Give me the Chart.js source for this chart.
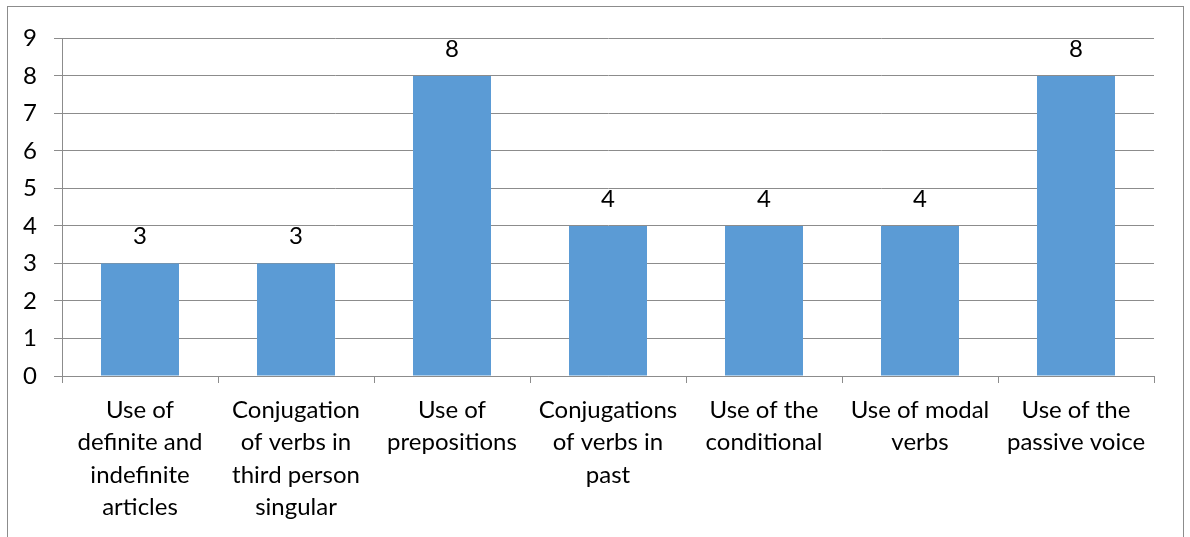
<!DOCTYPE html>
<html>
<head>
<meta charset="utf-8">
<script src="https://cdn.jsdelivr.net/npm/chart.js@4.4.0/dist/chart.umd.min.js"></script>
<style>
  html, body { margin: 0; padding: 0; background: #fff; overflow: hidden; }
  #frame {
    position: absolute; left: 7px; top: 6px;
    width: 1175px; height: 540px;
    border: 1px solid #8c8c8c; box-sizing: content-box;
  }
  #wrap { position: absolute; left: 0; top: 0; width: 1175px; height: 530px; }
</style>
</head>
<body>
<div id="frame"><div id="wrap"><canvas id="barChart"></canvas></div></div>
<script>
// Dữ liệu biểu đồ
const categories = [
  ["Use of", "definite and", "indefinite", "articles"],
  ["Conjugation", "of verbs in", "third person", "singular"],
  ["Use of", "prepositions"],
  ["Conjugations", "of verbs in", "past"],
  ["Use of the", "conditional"],
  ["Use of modal", "verbs"],
  ["Use of the", "passive voice"],
];
const values = [3, 3, 8, 4, 4, 4, 8];
const yTicks = [0, 1, 2, 3, 4, 5, 6, 7, 8, 9];

const fontFamily = "Lato, 'Open Sans', sans-serif";
const gridColor = "#8c8c8c";

// Nhãn giá trị trên cột
const valueLabels = {
  id: "valueLabels",
  afterDatasetsDraw(chart) {
    const ctx = chart.ctx;
    const meta = chart.getDatasetMeta(0);
    ctx.save();
    ctx.font = "24px " + fontFamily;
    ctx.fillStyle = "#000";
    ctx.textAlign = "center";
    ctx.textBaseline = "middle";
    meta.data.forEach((bar, i) => {
      ctx.fillText(String(values[i]), bar.x, bar.y - 27);
    });
    ctx.restore();
  },
};

new Chart(document.getElementById("barChart"), {
  type: "bar",
  data: {
    labels: categories,
    datasets: [
      {
        data: values,
        backgroundColor: "#5b9bd5",
        barPercentage: 0.5,
        categoryPercentage: 1,
      },
    ],
  },
  options: {
    responsive: true,
    maintainAspectRatio: false,
    animation: false,
    layout: { padding: { top: 29, right: 29, left: 0, bottom: 0 } },
    plugins: { legend: { display: false }, tooltip: { enabled: false } },
    scales: {
      x: {
        grid: { offset: true, drawOnChartArea: false, drawTicks: true, tickLength: 7, color: gridColor },
        border: { color: gridColor },
        ticks: {
          color: "#000",
          font: { family: fontFamily, size: 24, lineHeight: 1.35 },
          padding: 11,
          maxRotation: 0,
          autoSkip: false,
        },
        afterFit(scale) { scale.height = 161; },
      },
      y: {
        min: 0,
        max: 9,
        afterBuildTicks(scale) { scale.ticks = yTicks.map((v) => ({ value: v })); },
        grid: { color: gridColor, tickLength: 8 },
        border: { color: gridColor },
        ticks: {
          color: "#000",
          font: { family: fontFamily, size: 24 },
          padding: 17,
        },
        afterFit(scale) { scale.width = 54; },
      },
    },
  },
  plugins: [valueLabels],
});
</script>
</body>
</html>
